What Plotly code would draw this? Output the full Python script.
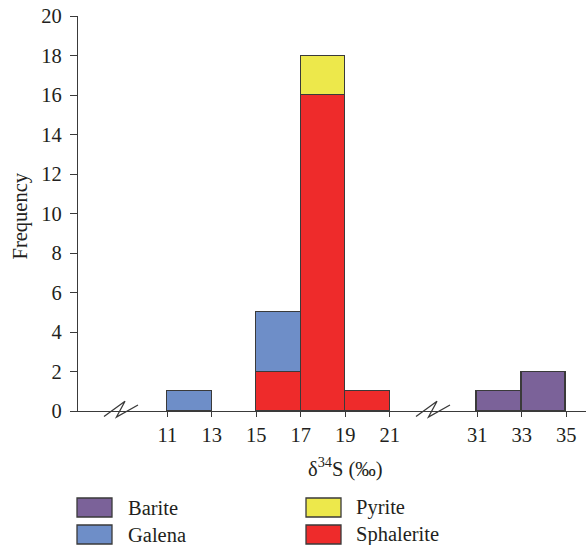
import plotly.graph_objects as go

# Histogram of sulfur isotope values, 2‰ bins (lower bin edges)
bin_width = 2
sphalerite_bins = [15, 17, 19]
sphalerite_counts = [2, 16, 1]
galena_bins = [11, 15]
galena_counts = [1, 3]
pyrite_bins = [17]
pyrite_counts = [2]
barite_bins = [31, 33]
barite_counts = [1, 2]

low_ticks = [11, 13, 15, 17, 19, 21]
high_ticks = [31, 33, 35]
y_ticks = list(range(0, 21, 2))

colors = {
    "Barite": "#7b6299",
    "Galena": "#6e8ec8",
    "Pyrite": "#ede84b",
    "Sphalerite": "#ee2b2b",
}
edge = "#3a3a3a"
ink = "#231f20"
font_family = "Liberation Serif, Times New Roman, serif"
font_size = 20.5

W, H = 586, 545
ML, MR, MT, MB = 78, 0, 16, 134
plot_w = W - ML - MR
plot_h = H - MT - MB


def px_x(p):
    return (p - ML) / plot_w


def px_y(p):
    return (H - MB - p) / plot_h


def bar(name, bins, counts, xaxis="x"):
    return go.Bar(
        name=name,
        x=bins,
        y=counts,
        width=bin_width,
        offset=0,
        xaxis=xaxis,
        yaxis="y",
        marker=dict(color=colors[name], line=dict(color=edge, width=1.5)),
        showlegend=False,
    )


fig = go.Figure()
fig.add_trace(bar("Sphalerite", sphalerite_bins, sphalerite_counts))
fig.add_trace(bar("Galena", galena_bins, galena_counts))
fig.add_trace(bar("Pyrite", pyrite_bins, pyrite_counts))
fig.add_trace(bar("Barite", barite_bins, barite_counts, xaxis="x2"))

split = 0.69685
axis_common = dict(
    showline=True,
    linecolor=edge,
    linewidth=1.3,
    ticks="outside",
    ticklen=5,
    tickwidth=1.3,
    tickcolor=edge,
    showgrid=False,
    zeroline=False,
    tickfont=dict(family=font_family, size=font_size, color=ink),
    anchor="y",
    fixedrange=True,
)

fig.update_layout(
    width=W,
    height=H,
    margin=dict(l=ML, r=MR, t=MT, b=MB),
    paper_bgcolor="white",
    plot_bgcolor="white",
    barmode="stack",
    bargap=0,
    xaxis=dict(domain=[0, split], range=[6.987, 22.897],
               tickvals=low_ticks, **axis_common),
    xaxis2=dict(domain=[split, 1], range=[28.964, 35.885],
                tickvals=high_ticks, **axis_common),
    yaxis=dict(
        range=[0, 20],
        tickvals=y_ticks,
        showline=True,
        linecolor=edge,
        linewidth=1.3,
        ticks="outside",
        ticklen=7,
        tickwidth=1.3,
        tickcolor=edge,
        showgrid=False,
        zeroline=False,
        ticklabelstandoff=4,
        tickfont=dict(family=font_family, size=font_size, color=ink),
        anchor="x",
        fixedrange=True,
    ),
)

# Axis titles
fig.add_annotation(
    text="δ<sup>34</sup>S (‰)", xref="paper", yref="paper",
    x=px_x(345), y=px_y(467), xanchor="center", yanchor="middle",
    showarrow=False, font=dict(family=font_family, size=font_size, color=ink),
)
fig.add_annotation(
    text="Frequency", xref="paper", yref="paper", textangle=-90,
    x=px_x(19.5), y=px_y(216), xanchor="center", yanchor="middle",
    showarrow=False, font=dict(family=font_family, size=font_size, color=ink),
)

# Axis break marks (zig-zag over the x axis line)
zigzag = "M-17,-5.5 L4,9.7 L-4.5,-6 L17,6"
for cx in (121, 433):
    fig.add_shape(
        type="path", path=zigzag,
        xref="paper", yref="paper",
        xsizemode="pixel", ysizemode="pixel",
        xanchor=px_x(cx), yanchor=0,
        line=dict(color=edge, width=1.3),
    )

# Legend: swatches and labels in two columns
legend_items = [
    ("Barite", 77, 498, 126),
    ("Galena", 77, 525, 126),
    ("Pyrite", 306, 498, 354),
    ("Sphalerite", 306, 525, 354),
]
for name, sx, sy, tx in legend_items:
    fig.add_shape(
        type="rect", xref="paper", yref="paper",
        x0=px_x(sx), x1=px_x(sx + 35), y0=px_y(sy), y1=px_y(sy + 19),
        fillcolor=colors[name], line=dict(color=edge, width=1.3),
    )
    fig.add_annotation(
        text=name, xref="paper", yref="paper",
        x=px_x(tx), y=px_y(sy + 9.5), xanchor="left", yanchor="middle",
        showarrow=False, font=dict(family=font_family, size=font_size, color=ink),
    )

fig.write_html("out.html")
